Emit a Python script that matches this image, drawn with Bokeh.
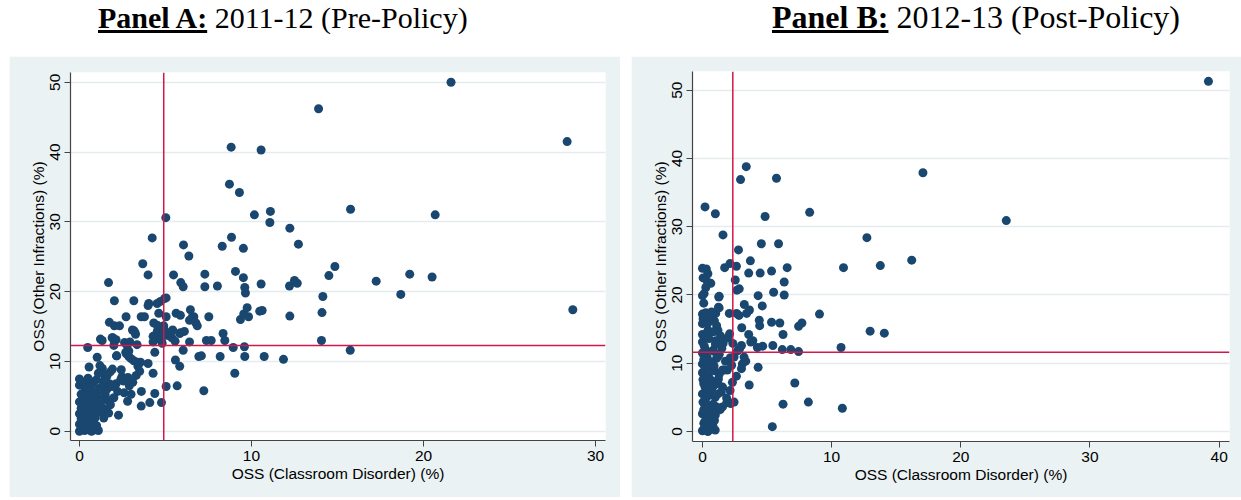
from bokeh.plotting import figure
from bokeh.models import Range1d, Span, Div, Spacer, FixedTicker
from bokeh.layouts import row, column
from bokeh.embed import file_html
from bokeh.resources import INLINE

# ---------------- data ----------------
title_a_bold = "Panel A:"
title_a_rest = "2011-12 (Pre-Policy)"
title_b_bold = "Panel B:"
title_b_rest = "2012-13 (Post-Policy)"
x_label = "OSS (Classroom Disorder) (%)"
y_label = "OSS (Other Infractions) (%)"

a_xticks = [0, 10, 20, 30]
b_xticks = [0, 10, 20, 30, 40]
yticks = [0, 10, 20, 30, 40, 50]

a_vline = 4.9
a_hline = 12.3
b_vline = 2.35
b_hline = 11.6

# Panel A (2011-12) points: (classroom disorder %, other infractions %)
a_points = [
    (21.6, 50.0), (13.9, 46.2), (28.35, 41.5), (8.82, 40.7), (10.56, 40.3), (8.72, 35.4), (9.3, 34.2),
    (15.76, 31.8), (20.68, 31.0), (10.17, 31.0), (11.1, 31.5), (11.07, 29.9), (12.23, 29.1), (5.02, 30.6),
    (4.23, 27.7), (8.84, 27.8), (6.05, 26.7), (6.36, 25.1), (8.3, 26.5), (9.53, 26.2), (12.73, 26.8),
    (3.68, 24.0), (9.07, 22.9), (3.99, 22.4), (5.47, 22.4), (7.29, 22.5), (9.53, 22.0), (1.69, 21.3),
    (5.89, 21.3), (6.03, 20.7), (7.29, 20.7), (8.02, 20.8), (10.56, 21.1), (12.21, 20.8), (12.5, 21.6),
    (12.66, 21.2), (9.61, 20.6), (9.65, 19.8), (14.5, 22.3), (14.85, 23.6), (17.25, 21.5), (19.2, 22.5),
    (20.5, 22.1), (14.15, 19.3), (18.68, 19.6), (28.68, 17.4), (14.1, 17.0), (14.07, 13.0), (15.74, 11.6),
    (11.86, 10.3), (10.74, 10.7), (12.23, 16.5), (10.48, 17.2), (10.62, 17.3), (9.83, 16.4),
    (2.03, 18.7), (3.16, 18.7), (4.03, 18.3), (3.99, 18.0), (4.52, 18.3), (4.71, 18.6), (4.94, 19.0),
    (5.04, 19.1), (1.74, 15.6), (2.03, 15.1), (2.33, 15.1), (2.71, 16.4), (3.59, 16.4), (3.78, 16.4),
    (4.32, 15.5), (4.9, 15.1), (4.61, 16.9), (5.04, 16.4), (5.62, 16.9), (5.87, 16.6), (6.45, 17.4),
    (6.65, 16.4), (6.4, 15.9), (6.55, 16.3), (6.77, 15.5), (6.85, 15.1), (7.52, 16.4), (9.55, 16.8),
    (9.75, 17.7), (9.36, 16.0), (1.22, 13.2), (1.32, 13.0), (1.9, 13.4), (2.0, 12.3), (2.13, 13.1),
    (0.48, 12.0), (1.03, 10.6), (2.15, 10.8), (2.62, 12.7), (2.77, 12.3), (2.93, 12.8), (3.16, 14.4),
    (3.26, 13.9), (3.35, 12.4), (2.73, 11.1), (2.87, 10.7), (3.0, 10.4), (3.16, 10.1), (3.35, 9.9),
    (3.55, 9.9), (3.99, 9.7), (4.28, 13.6), (4.28, 12.8), (4.38, 11.3), (4.52, 14.3), (4.52, 15.2),
    (4.77, 13.0), (4.81, 12.6), (4.81, 13.7), (5.16, 13.7), (5.37, 13.4), (5.56, 12.9), (5.83, 14.0),
    (5.42, 14.5), (5.29, 14.1), (4.84, 15.0), (4.94, 14.5), (5.87, 14.1), (6.1, 14.3), (4.42, 13.2),
    (3.08, 14.5), (3.22, 14.2), (2.02, 13.0), (1.94, 13.4), (7.38, 13.0), (7.66, 13.0), (8.35, 14.0),
    (8.45, 13.0), (8.18, 10.7), (8.94, 12.0), (9.59, 12.1), (9.61, 10.7), (6.94, 10.7), (7.09, 10.8),
    (6.03, 11.6), (6.4, 12.8), (5.58, 10.2), (5.83, 9.3), (9.03, 8.3), (4.28, 8.3), (3.6, 5.7),
    (4.38, 5.4), (4.77, 4.1), (3.59, 3.6), (4.09, 4.1), (2.27, 2.3), (1.41, 1.9), (5.04, 6.4),
    (5.68, 6.5), (7.23, 5.8), (2.17, 10.8), (2.69, 11.3), (2.87, 11.5), (0.56, 9.2), (1.19, 9.4),
    (1.33, 9.0), (1.44, 8.2), (1.92, 8.9), (2.43, 8.8), (2.47, 7.8), (2.56, 7.2), (2.82, 7.7),
    (1.6, 7.9), (1.79, 8.5), (1.74, 6.8), (2.4, 7.4), (2.13, 6.8), (2.22, 5.7), (3.3, 8.0), (3.5, 8.6),
    (3.1, 7.0), (2.9, 6.5), (2.6, 5.5), (3.0, 5.3), (2.8, 4.3), (2.0, 4.8), (1.5, 5.2), (1.6, 4.5),
    (1.8, 3.8), (1.3, 3.5), (1.5, 3.0), (1.7, 2.6), (1.6, 6.0), (1.9, 6.4), (1.2, 5.9), (3.4, 9.3),
    (0.0, 0.0), (0.1, 0.3), (0.2, 0.5), (0.3, 0.1), (0.5, 0.2), (0.7, 0.0), (0.9, 0.2), (1.1, 0.1),
    (0.0, 1.0), (0.2, 1.2), (0.4, 0.9), (0.6, 1.1), (0.8, 1.4), (1.0, 0.8), (0.1, 1.8), (0.3, 2.0),
    (0.5, 1.7), (0.7, 2.2), (0.9, 1.9), (0.0, 2.5), (0.2, 2.8), (0.4, 2.4), (0.6, 2.9), (0.8, 2.6),
    (1.0, 3.0), (1.2, 2.7), (0.1, 3.3), (0.3, 3.6), (0.5, 3.2), (0.7, 3.8), (0.9, 3.5), (1.1, 4.0),
    (0.0, 4.2), (0.2, 4.6), (0.4, 4.3), (0.6, 4.8), (0.8, 4.4), (1.0, 5.0), (1.3, 4.6), (0.1, 5.3),
    (0.3, 5.7), (0.5, 5.4), (0.7, 6.0), (0.9, 5.6), (1.2, 6.2), (0.0, 6.6), (0.2, 7.0), (0.4, 6.4),
    (0.6, 7.2), (0.8, 6.8), (1.0, 7.4), (0.0, 7.5), (0.5, 7.6), (1.4, 6.9), (1.5, 7.5), (1.1, 8.3),
]

# Panel B (2012-13) points
b_points = [
    (39.17, 51.3), (17.07, 37.9), (23.52, 30.9), (3.39, 38.8), (2.95, 36.9), (5.73, 37.1), (0.2, 32.9),
    (1.0, 31.9), (4.85, 31.5), (8.3, 32.1), (1.59, 28.8), (12.73, 28.4), (2.79, 26.6), (4.56, 27.5),
    (5.89, 27.5), (3.71, 25.0), (16.2, 25.1), (13.77, 24.3), (10.92, 24.0), (6.56, 24.0),
    (0.0, 23.9), (0.3, 23.8), (0.42, 23.1), (1.72, 24.0), (2.13, 24.6), (2.63, 24.2), (5.35, 23.5),
    (4.47, 23.2), (3.58, 23.2), (2.54, 22.2), (2.85, 20.9), (2.67, 20.7), (6.33, 21.9), (5.51, 20.4),
    (6.33, 20.0), (4.31, 19.9), (4.63, 18.4), (3.24, 18.6), (3.64, 17.8), (3.42, 17.3), (2.64, 17.3),
    (2.08, 17.3), (9.06, 17.2), (4.4, 16.3), (4.43, 15.5), (5.35, 16.0), (5.99, 15.9), (7.44, 15.4),
    (7.7, 15.9), (6.24, 14.2), (12.98, 14.7), (14.08, 14.4), (3.04, 15.2), (3.58, 14.2), (3.9, 13.3),
    (3.74, 13.1), (4.66, 12.5), (5.45, 12.6), (4.25, 12.3), (6.18, 12.0), (6.84, 12.0), (7.44, 11.7),
    (10.73, 12.3), (4.31, 9.4), (3.62, 6.8), (7.15, 7.1), (8.2, 4.3), (6.24, 4.0), (10.83, 3.4),
    (5.41, 0.7), (0.39, 21.9), (0.65, 21.7), (0.26, 21.1), (0.13, 20.2), (0.0, 19.9), (1.26, 19.7),
    (1.29, 18.1), (1.03, 17.3), (0.0, 17.2), (0.26, 17.4), (0.7, 17.5), (2.83, 17.0), (3.02, 12.6),
    (2.89, 12.2), (2.71, 11.8), (2.45, 10.9), (3.22, 10.9), (3.35, 10.3), (3.09, 9.9), (3.02, 9.2),
    (2.63, 8.1), (2.32, 7.2), (2.14, 6.0), (1.67, 9.0), (1.93, 9.0), (2.45, 4.3), (1.88, 4.2),
    (1.55, 3.6), (1.3, 19.8), (1.24, 18.2), (0.74, 17.4), (0.93, 16.2), (0.42, 15.9), (0.0, 15.8),
    (0.42, 14.8), (0.0, 14.2), (1.2, 14.8), (0.5, 13.6), (1.03, 13.3), (1.6, 12.9), (1.94, 13.7),
    (2.1, 14.3), (2.35, 12.9), (0.0, 13.1), (0.23, 12.0), (0.83, 11.9), (1.3, 11.3), (0.0, 11.5),
    (0.36, 10.9), (1.09, 10.7), (1.78, 10.3), (2.16, 10.8), (2.26, 9.7), (0.0, 9.9), (0.51, 9.4),
    (0.0, 8.6), (0.46, 8.2), (0.93, 8.9), (1.56, 9.0), (0.04, 7.6), (0.67, 7.5), (1.24, 7.7),
    (0.2, 6.5), (0.74, 6.3), (1.2, 7.0), (1.56, 6.5), (0.0, 5.5), (0.51, 5.3), (0.99, 5.0),
    (1.46, 5.8), (1.87, 4.9), (2.19, 4.1), (0.04, 4.3), (0.42, 3.6), (0.83, 4.0), (1.37, 3.2),
    (0.0, 2.6), (0.36, 2.1), (0.67, 1.7), (0.11, 1.2), (0.51, 0.7), (0.0, 0.1), (0.42, 0.0),
    (0.99, 0.2), (0.93, 1.6), (0.74, 2.6), (0.05, 22.5), (0.1, 18.8), (0.05, 16.5), (0.15, 12.5),
    (0.1, 10.5), (0.2, 9.2), (0.1, 7.0), (0.25, 4.8), (0.1, 3.2), (0.3, 2.9), (0.2, 1.5), (0.15, 0.5),
    (0.6, 0.3), (0.3, 0.2), (1.1, 15.5), (1.4, 14.0), (1.0, 12.8), (1.5, 12.2), (0.8, 11.8), (1.2, 11.0),
    (0.6, 10.2), (0.9, 9.6), (1.3, 8.4), (0.4, 7.0), (0.9, 6.8), (0.6, 5.9), (1.2, 5.5), (0.3, 4.0),
    (1.1, 3.6), (0.6, 3.1), (1.0, 2.4), (0.5, 1.2), (0.8, 0.9), (0.25, 14.0), (0.55, 16.7), (0.85, 14.6),
]

# ---------------- styling ----------------
BG = "#EAF2F3"
MARK = "#1a476f"
REF = "#d2174a"
FONT = "Liberation Sans"


def make_panel(points, xr, yr, xticks, vline, hline, width, height, bl, br, bt, bb):
    xs = [pt[0] for pt in points]
    ys = [pt[1] for pt in points]
    p = figure(width=width, height=height, output_backend="svg", toolbar_location=None,
               x_range=Range1d(*xr), y_range=Range1d(*yr),
               min_border_left=bl, min_border_right=br, min_border_top=bt, min_border_bottom=bb)
    p.background_fill_color = "white"
    p.border_fill_color = BG
    p.outline_line_color = None
    p.xgrid.visible = False
    p.ygrid.grid_line_color = "#e4eced"
    p.ygrid.grid_line_width = 1.6
    p.xaxis.ticker = FixedTicker(ticks=xticks)
    p.yaxis.ticker = FixedTicker(ticks=yticks)
    for ax in (p.xaxis[0], p.yaxis[0]):
        ax.axis_line_color = "#444444"
        ax.axis_line_width = 1.2
        ax.major_tick_line_color = "#444444"
        ax.major_tick_out = 6
        ax.major_tick_in = 0
        ax.minor_tick_line_color = None
        ax.major_label_text_font = FONT
        ax.major_label_text_font_size = "15.5px"
        ax.major_label_text_color = "black"
        ax.major_label_standoff = 4
        ax.axis_label_text_font = FONT
        ax.axis_label_text_font_size = "15.5px"
        ax.axis_label_text_font_style = "normal"
        ax.axis_label_text_color = "black"
        ax.axis_label_standoff = 1
    p.xaxis.axis_label = x_label
    p.yaxis.axis_label = y_label
    p.yaxis.major_label_orientation = "vertical"
    p.scatter(xs, ys, size=9, fill_color=MARK, line_color=None)
    p.add_layout(Span(location=vline, dimension="height", line_color=REF, line_width=1.5))
    p.add_layout(Span(location=hline, dimension="width", line_color=REF, line_width=1.5))
    return p


def make_title(bold, rest, width, left, size, top):
    html = (
        '<div style="font-family:\'Liberation Serif\',\'Times New Roman\',serif;'
        'font-size:%dpx;line-height:%dpx;white-space:nowrap;color:black;'
        'margin:%dpx 0 0 %dpx;padding:0;">'
        '<span style="font-weight:bold;text-decoration:underline;">%s</span> %s</div>'
    ) % (size, size, top, left, bold, rest)
    return Div(text=html, width=width, height=56, margin=(0, 0, 0, 0))


pa = make_panel(a_points, (-0.52, 30.58), (-1.33, 51.4), a_xticks, a_vline, a_hline,
                611, 441, 61, 15, 16, 57)
pb = make_panel(b_points, (-0.77, 40.8), (-1.47, 52.74), b_xticks, b_vline, b_hline,
                610, 441, 61, 12, 15, 56)

ta = make_title(title_a_bold, title_a_rest, 611, 89, 30, 3)
tb = make_title(title_b_bold, title_b_rest, 610, 141, 32, 1)

layout = row(Spacer(width=9, height=497), column(ta, pa), Spacer(width=11, height=497),
             column(tb, pb))

open("out.html", "w").write(file_html(layout, INLINE))
